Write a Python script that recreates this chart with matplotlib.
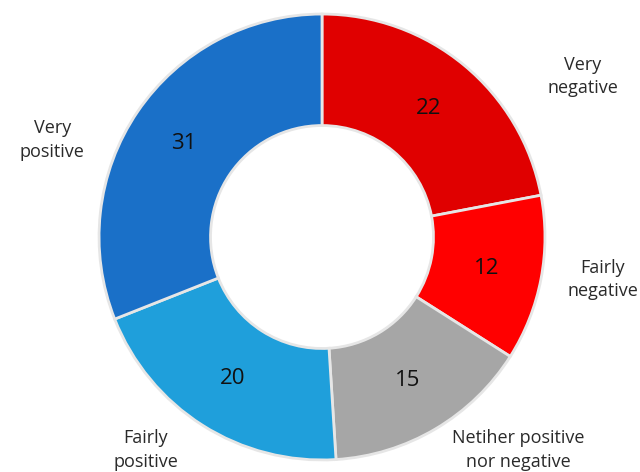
import matplotlib
matplotlib.use('Agg')
import matplotlib.pyplot as plt
import numpy as np

categories = ['Very\nnegative', 'Fairly\nnegative', 'Netiher positive\nnor negative',
              'Fairly\npositive', 'Very\npositive']
values = [22, 12, 15, 20, 31]
colors = ['#E00000', '#FF0000', '#A6A6A6', '#1F9FDB', '#1A70C8']

# label anchor points (in pie radius units)
label_x = [1.17, 1.26, 0.88, -0.79, -1.21]
label_y = [0.72, -0.19, -0.955, -0.955, 0.435]

plt.rcParams['font.family'] = ['Open Sans', 'DejaVu Sans']

fig = plt.figure(figsize=(6.4, 4.72), dpi=100)
ax = fig.add_axes([0, 0, 1, 1])

wedges, texts = ax.pie(values, colors=colors, startangle=90, counterclock=False,
                       radius=1.0,
                       wedgeprops=dict(width=0.5, edgecolor='#E6E6E6', linewidth=2))

# values inside the ring
for w, v in zip(wedges, values):
    ang = np.deg2rad((w.theta1 + w.theta2) / 2)
    ax.text(0.75 * np.cos(ang), 0.75 * np.sin(ang), str(v),
            ha='center', va='center', fontsize=16, color='#111111')

for lab, x, y in zip(categories, label_x, label_y):
    ax.text(x, y, lab, ha='center', va='center', fontsize=13,
            color='#2a2a2a', linespacing=1.4)

ax.set_xlim(-1.444, 1.426)
ax.set_ylim(-1.054, 1.063)
ax.set_aspect('equal')
ax.axis('off')

fig.savefig('out.png', dpi=100)
